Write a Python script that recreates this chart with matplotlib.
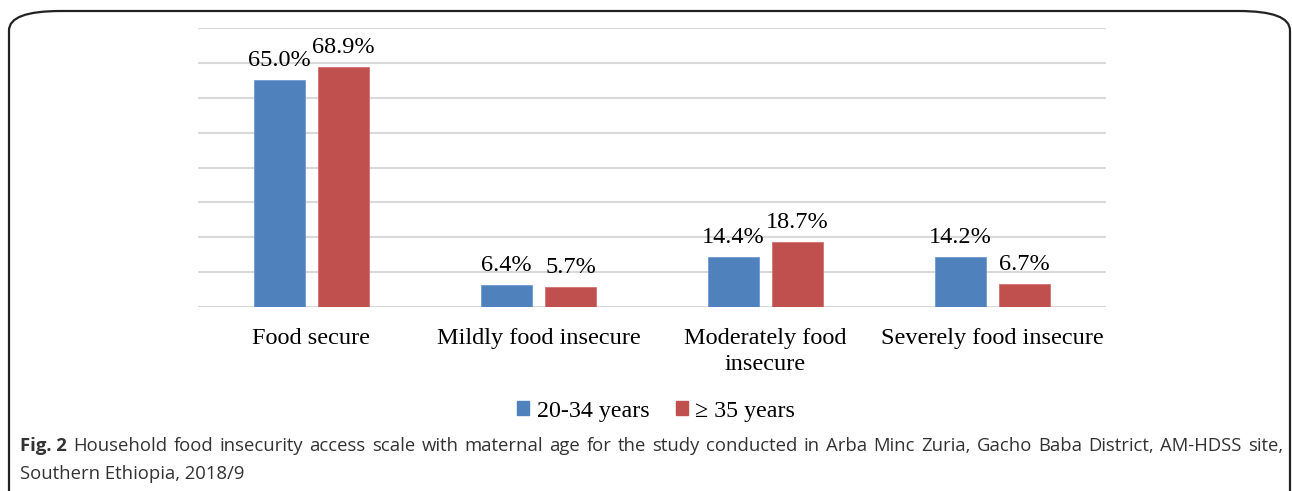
import numpy as np
import matplotlib.pyplot as plt
from matplotlib.patches import FancyBboxPatch, Patch

categories = ['Food secure', 'Mildly food insecure', 'Moderately food\ninsecure', 'Severely food insecure']
young = [65.0, 6.4, 14.4, 14.2]
old = [68.9, 5.7, 18.7, 6.7]
series_names = ['20-34 years', '\u2265 35 years']
caption_bold = 'Fig. 2'
caption_line1 = 'Household food insecurity access scale with maternal age for the study conducted in Arba Minc Zuria, Gacho Baba District, AM-HDSS site,'
caption_line2 = 'Southern Ethiopia, 2018/9'

blue = '#4F81BD'
red = '#C0504D'
serif = 'Liberation Serif'

fig = plt.figure(figsize=(12.92, 4.91), dpi=100)
ax = fig.add_axes([198 / 1292, 1 - 307 / 491, 908 / 1292, 279 / 491])

x = np.arange(len(categories))
w = 0.225
off = 0.142
b1 = ax.bar(x - off, young, w, color=blue, edgecolor='#6F9AD0', linewidth=0.6, zorder=3)
b2 = ax.bar(x + off, old, w, color=red, edgecolor='#D27270', linewidth=0.6, zorder=3)

for bars, vals in [(b1, young), (b2, old)]:
    for b, v in zip(bars, vals):
        ax.annotate(f'{v:.1f}%', (b.get_x() + b.get_width() / 2, v), xytext=(0, 6.5),
                    textcoords='offset points', ha='center', va='bottom',
                    fontsize=17.5, family=serif)

ax.set_xlim(-0.5, 3.5)
ax.set_ylim(0, 80)
ax.set_yticks(np.arange(0, 81, 10))
ax.set_yticklabels([])
ax.tick_params(axis='y', length=0)
ax.set_xticks(x)
ax.set_xticklabels(categories, fontsize=17.5, family=serif, linespacing=1.35)
ax.tick_params(axis='x', length=0, pad=15)
ax.grid(axis='y', color='#D9D9D9', linewidth=1.5, zorder=0)
for s in ax.spines.values():
    s.set_visible(False)

handles = [Patch(color=blue), Patch(color=red)]
fig.legend(handles, series_names, loc='center', bbox_to_anchor=(656 / 1292, 1 - 411 / 491),
           ncol=2, frameon=False, prop={'family': serif, 'size': 17.3},
           handlelength=0.5, handleheight=0.5, handletextpad=0.3, columnspacing=1.1)

# rounded frame around the figure
frame = FancyBboxPatch((9 / 1292, -0.1), (1281 / 1292), 1 - 11 / 491 + 0.1,
                       boxstyle='round,pad=0,rounding_size=0.04', transform=fig.transFigure,
                       fill=False, edgecolor='#222222', linewidth=1.6, mutation_aspect=491 / 1292 * 2.6)
fig.patches.append(frame)

# caption, first line justified between x=20 and x=1283
cap_font = 'Open Sans'
cap_size = 13.3
renderer = fig.canvas.get_renderer()
y1 = 1 - 446 / 491
words = [(caption_bold, 'bold')] + [(wd, 'normal') for wd in caption_line1.split()]
texts = []
for wd, wt in words:
    t = fig.text(0, y1, wd, fontsize=cap_size, color='#333333', va='center',
                 family=cap_font, weight=wt)
    texts.append(t)
widths = [t.get_window_extent(renderer).width for t in texts]
left, right = 20, 1283
gap = (right - left - sum(widths)) / (len(texts) - 1)
xpos = left
for t, wd in zip(texts, widths):
    t.set_x(xpos / 1292)
    xpos += wd + gap
fig.text(20 / 1292, 1 - 474 / 491, caption_line2,
         fontsize=cap_size, color='#333333', va='center', family=cap_font)

fig.savefig('out.png', dpi=100)
